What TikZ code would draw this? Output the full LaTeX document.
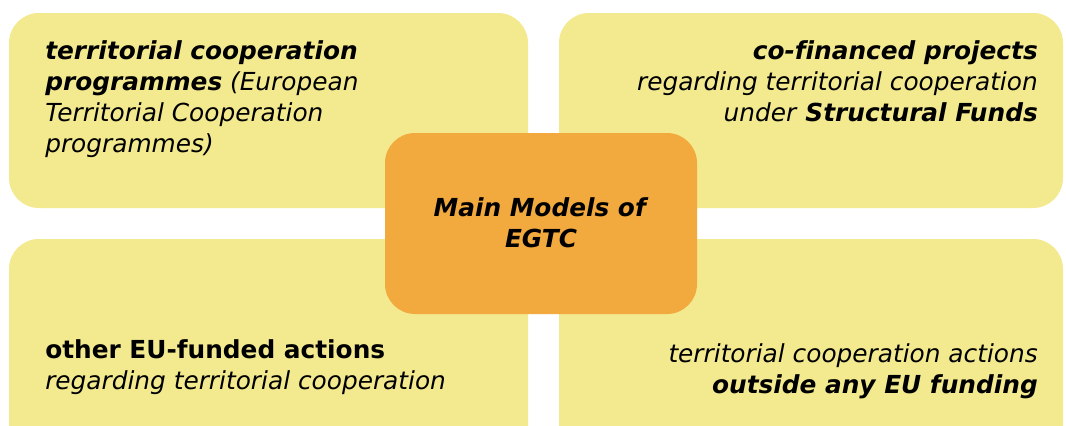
\documentclass[tikz,border=0pt]{standalone}
\usepackage{fontspec}
\setmainfont{DejaVu Sans}[Ligatures={NoCommon},BoldFont={DejaVu Sans Bold},ItalicFont={DejaVu Sans Oblique},BoldItalicFont={DejaVu Sans Bold Oblique}]
\definecolor{boxyellow}{RGB}{243,234,143}
\definecolor{boxorange}{RGB}{242,169,62}
\tikzset{
  quad/.style={fill=boxyellow, rounded corners=30*0.75pt},
  hub/.style={fill=boxorange, rounded corners=30*0.75pt},
  txt/.style={inner sep=0pt, font=\fontsize{18.6pt}{23pt}\selectfont},
}
\begin{document}
\begin{tikzpicture}[x=0.75pt,y=-0.75pt]
\useasboundingbox (0,0) rectangle (1066,425);
\clip (0,0) rectangle (1066,425);
\fill[white] (0,0) rectangle (1066,425);
% quadrant boxes
\path[quad] (9,13) rectangle (528,208) node[pos=0.5] (tl) {};
\path[quad] (559,13) rectangle (1063,208) node[pos=0.5] (tr) {};
\path[quad] (9,239) rectangle (528,470) node[pos=0.5] (bl) {};
\path[quad] (559,239) rectangle (1063,470) node[pos=0.5] (br) {};
% central box
\path[hub] (385,133) rectangle (697,314) node[pos=0.5] (hubc) {};
% top-left text
\node[txt, anchor=base west] (tl1) at (45,59) {\textbf{\textit{territorial cooperation}}};
\node[txt, anchor=base west] (tl2) at (45,90) {\textbf{\textit{programmes}} \textit{(European}};
\node[txt, anchor=base west] (tl3) at (45,121) {\textit{Territorial Cooperation}};
\node[txt, anchor=base west] (tl4) at (45,152) {\textit{programmes)}};
% top-right text
\node[txt, anchor=base east] (tr1) at (1038,59) {\textbf{\textit{co-financed projects}}};
\node[txt, anchor=base east] (tr2) at (1038,90) {\textit{regarding territorial cooperation}};
\node[txt, anchor=base east] (tr3) at (1038,121) {\textit{under} \textbf{\textit{Structural Funds}}};
% bottom-left text
\node[txt, anchor=base west] (bl1) at (45,358) {\textbf{other EU-funded actions}};
\node[txt, anchor=base west] (bl2) at (45,389) {\textit{regarding territorial cooperation}};
% bottom-right text
\node[txt, anchor=base east] (br1) at (1038,362) {\textit{territorial cooperation actions}};
\node[txt, anchor=base east] (br2) at (1038,393) {\textbf{\textit{outside any EU funding}}};
% central text
\node[txt, anchor=base] (c1) at (541,216) {\textbf{\textit{Main Models of}}};
\node[txt, anchor=base] (c2) at (541,247) {\textbf{\textit{EGTC}}};
\end{tikzpicture}
\end{document}
